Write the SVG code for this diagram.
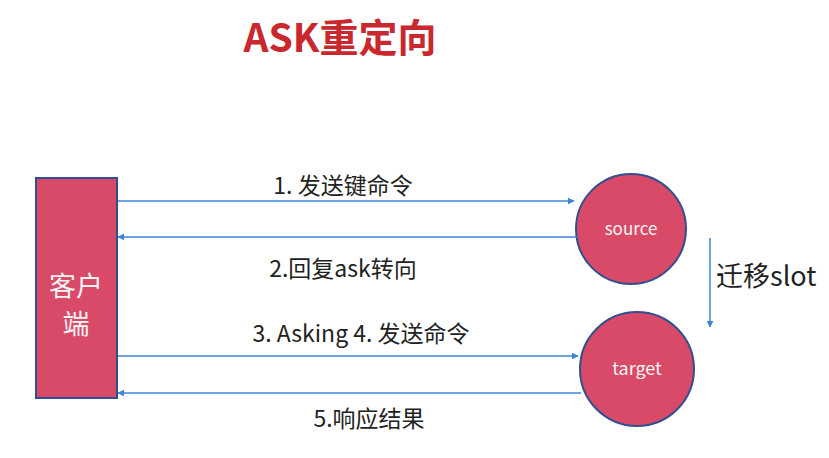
<svg xmlns="http://www.w3.org/2000/svg" width="829" height="458" viewBox="0 0 829 458">
<style>
.node{fill:#d94a68;stroke:#2f4f8f;stroke-width:2}
.conn{stroke:#3f84d4;stroke-width:1.5;fill:none}
.lbl{font-family:"Noto Sans CJK SC",sans-serif;font-size:23px;fill:#222;text-anchor:middle}
.wt{font-family:"Noto Sans CJK SC",sans-serif;fill:#f4f4f4;text-anchor:middle}
</style>
<defs>
<marker id="ah" viewBox="0 0 10 10" refX="9" refY="5" markerWidth="7" markerHeight="7" orient="auto" markerUnits="userSpaceOnUse">
<path d="M0,0 L10,5 L0,10 z" fill="#3f84d4"/>
</marker>
</defs>
<rect width="829" height="458" fill="#ffffff"/>
<text x="340" y="52" font-family="Noto Sans CJK SC,sans-serif" font-size="39" font-weight="bold" fill="#c8282e" text-anchor="middle">ASK重定向</text>
<g id="client">
<rect class="node" x="36" y="178" width="81" height="220"/>
<text class="wt" x="76" y="296" font-size="27">客户</text>
<text class="wt" x="76" y="334" font-size="27">端</text>
</g>
<g id="source">
<circle class="node" cx="631" cy="229" r="55"/>
<text class="wt" x="631" y="235" font-size="17">source</text>
</g>
<g id="target">
<circle class="node" cx="637" cy="369" r="57"/>
<text class="wt" x="637" y="375" font-size="18">target</text>
</g>
<g id="connectors">
<line class="conn" x1="118" y1="201" x2="574" y2="201" marker-end="url(#ah)"/>
<line class="conn" x1="577" y1="237" x2="118" y2="237" marker-end="url(#ah)"/>
<line class="conn" x1="118" y1="356" x2="578" y2="356" marker-end="url(#ah)"/>
<line class="conn" x1="581" y1="393" x2="118" y2="393" marker-end="url(#ah)"/>
<line class="conn" x1="710" y1="238" x2="710" y2="327" marker-end="url(#ah)"/>
</g>
<g id="labels">
<text class="lbl" x="343" y="194">1. 发送键命令</text>
<text class="lbl" x="343" y="277">2.回复ask转向</text>
<text class="lbl" x="361" y="342">3. Asking 4. 发送命令</text>
<text class="lbl" x="369" y="427">5.响应结果</text>
<text x="716" y="286" font-family="Noto Sans CJK SC,sans-serif" font-size="27" fill="#222">迁移slot</text>
</g>
</svg>
